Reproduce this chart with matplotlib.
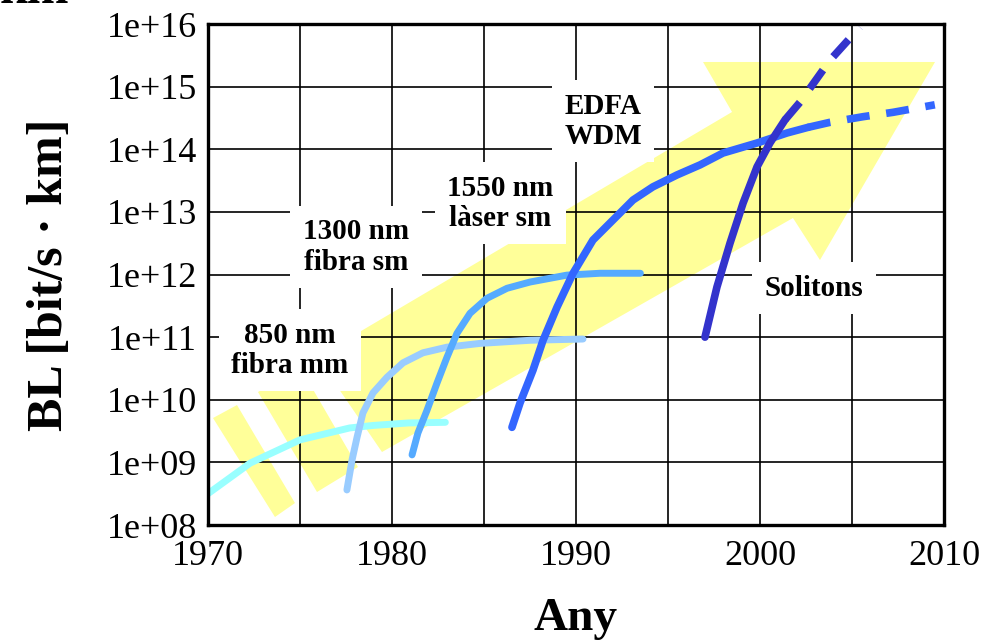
import numpy as np
import matplotlib
matplotlib.use("Agg")
import matplotlib.pyplot as plt
from matplotlib.patches import Polygon

# ---- data (year, log10 BL) ----
yr_850_mm1 = [1969.95, 1972.3, 1975.0, 1977.7, 1978.97, 1980.9, 1982.9]
bl_850_mm1 = [8.49, 8.99, 9.36, 9.55, 9.59, 9.63, 9.64]

yr_850_mm2 = [1977.55, 1977.83, 1978.10, 1978.42, 1978.97, 1979.73, 1980.60, 1981.68,
              1982.99, 1984.78, 1987.5, 1990.38]
bl_850_mm2 = [8.56, 9.04, 9.40, 9.79, 10.11, 10.36, 10.59, 10.75,
              10.84, 10.90, 10.95, 10.97]

yr_1300_sm = [1981.09, 1981.41, 1981.90, 1982.45, 1982.99, 1983.53, 1984.24, 1985.16,
              1986.25, 1987.5, 1989.5, 1991.3, 1993.5]
bl_1300_sm = [9.12, 9.47, 9.83, 10.27, 10.68, 11.06, 11.38, 11.62,
              11.78, 11.88, 11.99, 12.02, 12.02]

yr_1550 = [1986.52, 1986.96, 1987.66, 1988.21, 1988.97, 1989.84, 1990.92, 1992.01,
           1993.10, 1994.18, 1995.49, 1996.74, 1997.99, 1999.84, 2001.47, 2002.61]
bl_1550 = [9.56, 9.95, 10.47, 10.95, 11.48, 12.02, 12.55, 12.87,
           13.19, 13.40, 13.59, 13.75, 13.94, 14.10, 14.26, 14.35]
yr_1550_ext = [2002.61, 2003.8, 2005.6, 2007.23, 2009.5]
bl_1550_ext = [14.35, 14.43, 14.52, 14.59, 14.71]

yr_sol = [1997.01, 1997.66, 1998.37, 1999.08, 1999.84, 2000.54, 2001.36]
bl_sol = [11.0, 11.80, 12.50, 13.14, 13.72, 14.10, 14.47]
yr_sol_ext = [2001.36, 2002.17, 2003.80, 2005.43]
bl_sol_ext = [14.47, 14.75, 15.42, 15.95]

x_ticks = [1970, 1980, 1990, 2000, 2010]
y_ticks = [1e8, 1e9, 1e10, 1e11, 1e12, 1e13, 1e14, 1e15, 1e16]
y_tick_labels = ["1e+08", "1e+09", "1e+10", "1e+11", "1e+12", "1e+13", "1e+14", "1e+15", "1e+16"]

labels = ["850 nm\nfibra mm", "1300 nm\nfibra sm", "1550 nm\nlàser sm", "EDFA\nWDM", "Solitons"]
label_yr = [1974.46, 1978.04, 1985.9, 1991.47, 2002.93]
label_bl = [10.79, 12.44, 13.14, 14.45, 11.78]

# ---- figure ----
plt.rcParams['font.family'] = ['Liberation Serif', 'DejaVu Serif']
fig = plt.figure(figsize=(9.82, 6.42), dpi=100)
ax = fig.add_axes([0.2118, 0.1822, 0.7495, 0.7804])

ax.set_yscale('log')
ax.set_xlim(1970, 2010)
ax.set_ylim(1e8, 1e16)

yellow = '#ffff99'
arrow_main = [(0.2364, 0.1457), (0.7948, 0.6128), (0.8315, 0.5289), (0.9878, 0.9242),
              (0.6726, 0.9242), (0.7120, 0.8244), (0.1481, 0.3353)]
stripe2 = [(0.0679, 0.2655), (0.1250, 0.3154), (0.2038, 0.1158), (0.1481, 0.0659)]
stripe1 = [(0.0068, 0.2136), (0.0394, 0.2395), (0.1182, 0.0439), (0.0910, 0.0160)]
for poly in (arrow_main, stripe2, stripe1):
    ax.add_patch(Polygon(poly, closed=True, transform=ax.transAxes,
                         facecolor=yellow, edgecolor='none', zorder=0.2))

ax.set_axisbelow(True)
ax.set_xticks(x_ticks)
ax.set_xticks(np.arange(1975, 2010, 10), minor=True)
ax.set_yticks(y_ticks)
ax.set_yticklabels(y_tick_labels)
ax.yaxis.set_minor_locator(matplotlib.ticker.NullLocator())
ax.grid(True, which='both', color='black', linewidth=1.2)
ax.tick_params(which='both', length=0, labelsize=26, pad=8)
ax.tick_params(axis='x', pad=11)
for s in ax.spines.values():
    s.set_linewidth(2.4)
    s.set_zorder(5)

def P(v):
    return [10 ** b for b in v]

kw = dict(solid_capstyle='round', solid_joinstyle='round', zorder=4)
ax.plot(yr_850_mm1, P(bl_850_mm1), color='#99ffff', lw=5, **kw)
ax.plot(yr_850_mm2, P(bl_850_mm2), color='#99ccff', lw=5, **kw)
ax.plot(yr_1300_sm, P(bl_1300_sm), color='#55aaff', lw=5, **kw)
ax.plot(yr_1550, P(bl_1550), color='#3366ff', lw=5.5, **kw)
ax.plot(yr_1550_ext, P(bl_1550_ext), color='#3366ff', lw=5.5, dashes=(3, 2.2), zorder=4)
ax.plot(yr_sol, P(bl_sol), color='#3333cc', lw=5.5, **kw)
ax.plot(yr_sol_ext, P(bl_sol_ext), color='#3333cc', lw=5.5, dashes=(3, 2.2), zorder=4)

for t, x, y in zip(labels, label_yr, label_bl):
    ax.text(x, 10 ** y, t, ha='center', va='center', fontsize=21, fontweight='bold',
            linespacing=1.15, zorder=3,
            bbox=dict(facecolor='white', edgecolor='none', pad=9))

ax.set_ylabel("BL [bit/s · km]", fontsize=36, fontweight='bold', labelpad=24)
ax.set_xlabel("Any", fontsize=34, fontweight='bold', labelpad=18)

fig.text(0.0, 1 - 3 / 642, "km", fontsize=36, fontweight='bold', ha='left', va='baseline')

fig.savefig("out.png", dpi=100)
